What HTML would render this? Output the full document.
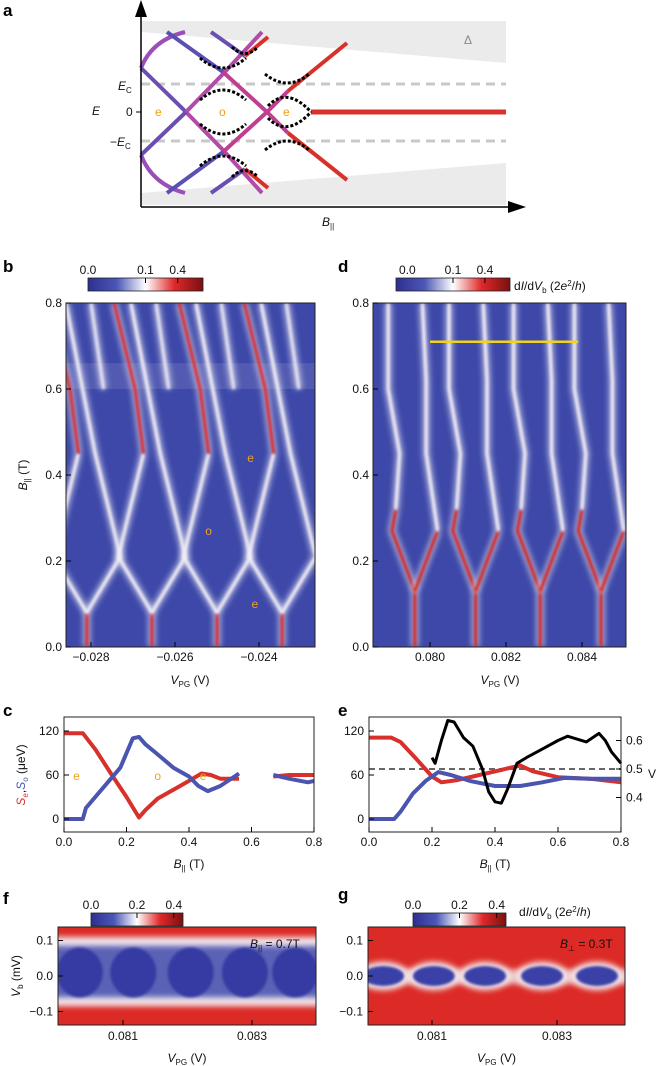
<!DOCTYPE html>
<html><head><meta charset="utf-8">
<style>
html,body{margin:0;padding:0;background:#fff;}
svg{display:block;font-family:"Liberation Sans",sans-serif;}
.t{font-size:12px;fill:#111;}
.pl{font-size:17px;font-weight:bold;fill:#000;}
</style></head>
<body>
<svg id="fig" width="668" height="1066" viewBox="0 0 668 1066" xmlns="http://www.w3.org/2000/svg">
<defs>
<linearGradient id="cbar" x1="0" x2="1" y1="0" y2="0">
<stop offset="0" stop-color="#2e2f8f"/><stop offset="0.25" stop-color="#4b57b8"/><stop offset="0.5" stop-color="#ffffff"/><stop offset="0.75" stop-color="#e0282a"/><stop offset="1" stop-color="#7a1010"/>
</linearGradient>
<filter id="blur1" filterUnits="userSpaceOnUse" x="0" y="0" width="668" height="1066"><feGaussianBlur stdDeviation="1.4"/></filter>
<filter id="blur2" filterUnits="userSpaceOnUse" x="0" y="0" width="668" height="1066"><feGaussianBlur stdDeviation="3"/></filter>
<clipPath id="clipB"><rect x="66" y="303" width="249" height="344"/></clipPath>
<clipPath id="clipD"><rect x="373" y="303" width="253" height="344"/></clipPath>
<clipPath id="clipF"><rect x="58" y="927" width="258" height="98"/></clipPath>
<clipPath id="clipG"><rect x="368" y="927" width="257" height="98"/></clipPath>
</defs>

<!-- Panel a -->
<g>
<text class="pl" x="3" y="16">a</text>
<polygon points="141,21 506,21 506,63 141,32" fill="#ebebeb"/>
<polygon points="141,193 506,163 506,205 141,205" fill="#ebebeb"/>
<text x="464" y="44" font-size="12" fill="#888">Δ</text>
<line x1="141" y1="84" x2="506" y2="84" stroke="#c8c8c8" stroke-width="3" stroke-dasharray="9,6"/>
<line x1="141" y1="141" x2="506" y2="141" stroke="#c8c8c8" stroke-width="3" stroke-dasharray="9,6"/>
<g fill="none" stroke-width="4" stroke-linecap="butt">
<path d="M141,68 Q152,40 185,32" stroke="#9a4fb8"/>
<path d="M141,155 Q152,184 185,193" stroke="#9a4fb8"/>
<path d="M141,68 L186,112" stroke="#6a4fb0"/>
<path d="M186,112 L223,150 L262,193" stroke="#b24aa8"/>
<path d="M141,155 L186,112" stroke="#6a4fb0"/>
<path d="M186,112 L223,74 L262,32" stroke="#b24aa8"/>
<path d="M167,32 L223,72" stroke="#5a50b4"/>
<path d="M223,72 L267,112 L288,133" stroke="#c03f90"/>
<path d="M288,133 L347,180" stroke="#d8302a"/>
<path d="M167,193 L223,152" stroke="#5a50b4"/>
<path d="M223,152 L267,112 L288,91" stroke="#c03f90"/>
<path d="M288,91 L347,43" stroke="#d8302a"/>
<path d="M211,32 L245,56" stroke="#6a4fb0"/>
<path d="M245,56 L268,37" stroke="#d8302a"/>
<path d="M211,193 L245,169" stroke="#6a4fb0"/>
<path d="M245,169 L268,188" stroke="#d8302a"/>
<path d="M311,112 L506,112" stroke="#d8302a" stroke-width="5"/>
</g>
<g fill="none" stroke="#000" stroke-width="3" stroke-dasharray="3,2">
<path d="M200,58 Q223,78 246,58"/>
<path d="M232,47 Q245,60 258,47"/>
<path d="M200,100 Q223,80 246,100"/>
<path d="M265,74 Q287,92 309,74"/>
<path d="M268,106 Q287,86 311,112"/>
<path d="M268,118 Q287,138 311,112"/>
<path d="M200,124 Q223,144 246,124"/>
<path d="M265,150 Q287,132 309,150"/>
<path d="M200,166 Q223,146 246,166"/>
<path d="M232,177 Q245,164 258,177"/>
</g>
<line x1="141" y1="207" x2="512" y2="207" stroke="#000" stroke-width="1.5"/>
<polygon points="526,207 508,201 508,213" fill="#000"/>
<line x1="141" y1="207" x2="141" y2="14" stroke="#000" stroke-width="1.5"/>
<polygon points="141,0 135,17 147,17" fill="#000"/>
<line x1="136" y1="112" x2="141" y2="112" stroke="#000"/>
<text class="t" x="92" y="115" font-style="italic">E</text>
<text class="t" x="126" y="116">0</text>
<text class="t" x="118" y="90" font-style="italic">E<tspan font-size="8" dy="3" font-style="normal">C</tspan></text>
<text class="t" x="110" y="146">−<tspan font-style="italic">E</tspan><tspan font-size="8" dy="3">C</tspan></text>
<text x="155" y="116" font-size="12" fill="#f0a020">e</text>
<text x="219" y="116" font-size="12" fill="#f0a020">o</text>
<text x="283" y="116" font-size="12" fill="#f0a020">e</text>
<text class="t" x="322" y="226" font-style="italic">B<tspan font-size="8" dy="3" font-style="normal">||</tspan></text>
</g>

<g id="panelB"></g>
<g id="panelD"></g>
<g id="panelC"></g>
<g id="panelE"></g>
<g id="panelF"></g>
<g id="panelG"></g>
</svg>

<script>
// ---- data ----
const bPeaks = [-0.0281, -0.02655, -0.0250, -0.02345];
const dStems = [0.0796, 0.0812, 0.0829, 0.0845];
const cB_red = [0,0.06,0.1,0.15,0.2,0.24,0.26,0.3,0.35,0.4,0.44,0.47,0.5,0.56];
const cS_red = [117,117,95,62,30,2,12,28,40,52,62,60,55,55];
const cB_red2 = [0.67,0.72,0.8];
const cS_red2 = [58,60,60];
const cB_blue = [0,0.06,0.07,0.12,0.18,0.22,0.24,0.26,0.3,0.35,0.4,0.43,0.46,0.5,0.56];
const cS_blue = [0,0,15,40,70,110,112,102,88,70,58,45,38,45,62];
const cB_blue2 = [0.67,0.72,0.78,0.8];
const cS_blue2 = [60,55,50,52];
const eB_red = [0,0.07,0.1,0.15,0.2,0.23,0.28,0.35,0.42,0.48,0.52,0.6,0.7,0.8];
const eS_red = [111,111,105,82,58,50,53,60,67,73,65,57,55,50];
const eB_blue = [0,0.08,0.1,0.14,0.18,0.22,0.26,0.32,0.4,0.48,0.55,0.62,0.7,0.8];
const eS_blue = [0,0,10,35,52,64,60,52,45,45,50,56,55,55];
const eB_v = [0.2,0.21,0.23,0.25,0.27,0.3,0.33,0.36,0.38,0.4,0.42,0.44,0.47,0.5,0.55,0.6,0.63,0.66,0.69,0.73,0.75,0.77,0.8];
const eV = [0.54,0.52,0.6,0.67,0.665,0.61,0.58,0.5,0.42,0.385,0.38,0.43,0.52,0.54,0.57,0.6,0.615,0.605,0.595,0.625,0.6,0.56,0.52];
const bTicksX = [-0.028,-0.026,-0.024];
const dTicksX = [0.080,0.082,0.084];
const bTicksY = [0.0,0.2,0.4,0.6,0.8];
const cTicksX = [0.0,0.2,0.4,0.6,0.8];
const cTicksY = [0,60,120];
const eTicksV = [0.4,0.5,0.6];
const fgTicksX = [0.081,0.083];
const fgTicksY = [-0.1,0.0,0.1];
const fLobes = [0.08033,0.08116,0.08205,0.08289,0.08367];
const gLobes = [0.08022,0.08103,0.08185,0.08276,0.08364];

const NS="http://www.w3.org/2000/svg";
function mk(parent,tag,attrs,text){const e=document.createElementNS(NS,tag);for(const k in attrs)e.setAttribute(k,attrs[k]);if(text!==undefined)e.textContent=text;parent.appendChild(e);return e;}
function fmt(v,d){return (v<0?'−':'')+Math.abs(v).toFixed(d);}

// scales
const by=B=>647-B*430;
const bx=V=>91+(V+0.028)*42000;
const dx=V=>430+(V-0.080)*38000;
const cx=B=>64+B*312.5;
const cy=S=>819-S*(88/120);
const ex=B=>369+B*315;
const eyV=v=>769-(v-0.5)*285;
const fy=m=>976-m*355;
const fx=V=>123+(V-0.081)*64500;
const gx=V=>432+(V-0.081)*62500;

function colorbar(g,x,y,w,labels,tickFracs,name){
  const r=mk(g,'rect',{x:x,y:y,width:w,height:13,fill:'url(#cbar)',stroke:'#222','stroke-width':0.8});
  
  
  labels.forEach((l,i)=>{mk(g,'text',{class:'t',x:x+l[1]*w,y:y-4,'text-anchor':'middle'},l[0]);});
  tickFracs.forEach(f=>mk(g,'line',{x1:x+f*w,x2:x+f*w,y1:y,y2:y+5,stroke:'#000'}));
}
function ridge(g,pts,core){
  const d='M'+pts.map(p=>p[0].toFixed(1)+','+p[1].toFixed(1)).join(' L');
  mk(g,'path',{d:d,fill:'none',stroke:'#e6e8f6','stroke-width':8,opacity:0.6,filter:'url(#blur2)'});
  const c=mk(g,'path',{d:d,fill:'none',stroke:core,'stroke-width':3,filter:'url(#blur1)'});
  
  
}

// ---- Panel B ----
(function(){
  const g=document.getElementById('panelB');
  mk(g,'text',{class:'pl',x:3,y:272},'b');
  colorbar(g,88,278,115,[['0.0',0],['0.1',0.5],['0.4',0.78]],[0.5,0.78],'colorbar-b');
  const h=mk(g,'g',{'clip-path':'url(#clipB)'});
  mk(h,'rect',{x:66,y:303,width:249,height:344,fill:'#3d48a8'});
  mk(h,'rect',{x:66,y:by(0.66),width:249,height:by(0.6)-by(0.66),fill:'#7a80c4',opacity:0.35});
  bPeaks.forEach(p=>{
    const P=(V,B)=>[bx(V),by(B)];
    ridge(h,[P(p,0),P(p,0.08)],'#e0282a');
    ridge(h,[P(p,0.08),P(p+0.0008,0.21),P(p+0.0002,0.45),P(p-0.0005,0.8)],'#f4eef6');
    ridge(h,[P(p,0.08),P(p-0.0008,0.21),P(p-0.0002,0.45)],'#f4eef6');
    ridge(h,[P(p-0.0002,0.45),P(p-0.0004,0.6),P(p-0.0009,0.8)],'#e0282a');
    ridge(h,[P(p+0.0004,0.6),P(p+0.0001,0.8)],'#e8e4f2');
  });
  mk(g,'rect',{x:66,y:303,width:249,height:344,fill:'none',stroke:'#222','stroke-width':1});
  [['e',-0.0242,0.44],['o',-0.0252,0.27],['e',-0.0241,0.1]].forEach(t=>mk(g,'text',{x:bx(t[1]),y:by(t[2])+4,'font-size':12,fill:'#f0a020','text-anchor':'middle'},t[0]));
  bTicksY.forEach(v=>{mk(g,'line',{x1:66,x2:71,y1:by(v),y2:by(v),stroke:'#000'});mk(g,'text',{class:'t',x:62,y:by(v)+4,'text-anchor':'end'},v.toFixed(1));});
  bTicksX.forEach(v=>{mk(g,'line',{x1:bx(v),x2:bx(v),y1:647,y2:642,stroke:'#000'});mk(g,'text',{class:'t',x:bx(v),y:661,'text-anchor':'middle'},fmt(v,3));});
  mk(g,'text',{class:'t',x:190,y:684,'text-anchor':'middle'}).innerHTML='<tspan font-style="italic">V</tspan><tspan font-size="8" dy="3">PG</tspan><tspan dy="-3"> (V)</tspan>';
  mk(g,'text',{class:'t',transform:'translate(27,475) rotate(-90)','text-anchor':'middle'}).innerHTML='<tspan font-style="italic">B</tspan><tspan font-size="8" dy="3">||</tspan><tspan dy="-3"> (T)</tspan>';
})();

// ---- Panel D ----
(function(){
  const g=document.getElementById('panelD');
  mk(g,'text',{class:'pl',x:338,y:272},'d');
  colorbar(g,396,278,114,[['0.0',0.1],['0.1',0.5],['0.4',0.78]],[0.5,0.78],'colorbar-d');
  mk(g,'text',{class:'t',x:514,y:290}).innerHTML='d<tspan font-style="italic">I</tspan>/d<tspan font-style="italic">V</tspan><tspan font-size="8" dy="3">b</tspan><tspan dy="-3"> (2</tspan><tspan font-style="italic">e</tspan><tspan font-size="8" dy="-4">2</tspan><tspan dy="4">/</tspan><tspan font-style="italic">h</tspan>)';
  const h=mk(g,'g',{'clip-path':'url(#clipD)'});
  mk(h,'rect',{x:373,y:303,width:253,height:344,fill:'#3d48a8'});
  dStems.forEach(s=>{
    const P=(V,B)=>[dx(V),by(B)];
    ridge(h,[P(s,0),P(s,0.13)],'#d8201f');
    ridge(h,[P(s,0.13),P(s-0.0006,0.27),P(s-0.0005,0.32)],'#d8201f');
    ridge(h,[P(s-0.0005,0.32),P(s-0.0004,0.45),P(s-0.0007,0.6),P(s-0.0007,0.8)],'#f4eef6');
    ridge(h,[P(s,0.13),P(s+0.0006,0.27)],'#d8201f');
    ridge(h,[P(s+0.0006,0.27),P(s+0.0003,0.45),P(s+0.0003,0.62),P(s+0.0002,0.8)],'#f4eef6');
  });
  const y=mk(g,'line',{x1:dx(0.0800),x2:dx(0.0839),y1:by(0.71),y2:by(0.71),stroke:'#f2d21a','stroke-width':2.5});
  
  
  mk(g,'rect',{x:373,y:303,width:253,height:344,fill:'none',stroke:'#222','stroke-width':1});
  bTicksY.forEach(v=>{mk(g,'line',{x1:373,x2:378,y1:by(v),y2:by(v),stroke:'#000'});mk(g,'text',{class:'t',x:369,y:by(v)+4,'text-anchor':'end'},v.toFixed(1));});
  dTicksX.forEach(v=>{mk(g,'line',{x1:dx(v),x2:dx(v),y1:647,y2:642,stroke:'#000'});mk(g,'text',{class:'t',x:dx(v),y:661,'text-anchor':'middle'},v.toFixed(3));});
  mk(g,'text',{class:'t',x:500,y:684,'text-anchor':'middle'}).innerHTML='<tspan font-style="italic">V</tspan><tspan font-size="8" dy="3">PG</tspan><tspan dy="-3"> (V)</tspan>';
})();

function line(g,xs,ys,fx_,fy_,color,w,name){
  const d='M'+xs.map((x,i)=>fx_(x).toFixed(1)+','+fy_(ys[i]).toFixed(1)).join(' L');
  const p=mk(g,'path',{d:d,fill:'none',stroke:color,'stroke-width':w,'stroke-linejoin':'round'});
  
  
}
function xyAxes(g,x0,x1,xs){
  mk(g,'rect',{x:x0,y:717,width:x1-x0,height:115,fill:'none',stroke:'#222','stroke-width':1});
  cTicksY.forEach(v=>{mk(g,'line',{x1:x0,x2:x0+5,y1:cy(v),y2:cy(v),stroke:'#000'});mk(g,'text',{class:'t',x:x0-5,y:cy(v)+4,'text-anchor':'end'},v);});
  cTicksX.forEach(v=>{mk(g,'line',{x1:xs(v),x2:xs(v),y1:832,y2:827,stroke:'#000'});mk(g,'text',{class:'t',x:xs(v),y:846,'text-anchor':'middle'},v.toFixed(1));});
  mk(g,'text',{class:'t',x:(x0+x1)/2,y:868,'text-anchor':'middle'}).innerHTML='<tspan font-style="italic">B</tspan><tspan font-size="8" dy="3">||</tspan><tspan dy="-3"> (T)</tspan>';
}
// ---- Panel C ----
(function(){
  const g=document.getElementById('panelC');
  mk(g,'text',{class:'pl',x:3,y:716},'c');
  line(g,cB_red,cS_red,cx,cy,'#d8302a',4,'se-line');
  line(g,cB_red2,cS_red2,cx,cy,'#d8302a',4,'se-line-2');
  line(g,cB_blue,cS_blue,cx,cy,'#4a55b0',4,'so-line');
  line(g,cB_blue2,cS_blue2,cx,cy,'#4a55b0',4,'so-line-2');
  [['e',0.04],['o',0.3],['e',0.445]].forEach(t=>mk(g,'text',{x:cx(t[1]),y:cy(60)+5,'font-size':12,fill:'#f0a020','text-anchor':'middle'},t[0]));
  xyAxes(g,64,314,cx);
  mk(g,'text',{class:'t',transform:'translate(25,775) rotate(-90)','text-anchor':'middle'}).innerHTML='<tspan fill="#d8302a" font-style="italic">S</tspan><tspan fill="#d8302a" font-size="8" dy="3">e</tspan><tspan dy="-3">,</tspan><tspan fill="#4a55b0" font-style="italic">S</tspan><tspan fill="#4a55b0" font-size="8" dy="3">o</tspan><tspan dy="-3"> (μeV)</tspan>';
})();
// ---- Panel E ----
(function(){
  const g=document.getElementById('panelE');
  mk(g,'text',{class:'pl',x:338,y:716},'e');
  const dl=mk(g,'line',{x1:369,x2:621,y1:eyV(0.5),y2:eyV(0.5),stroke:'#666','stroke-width':2,'stroke-dasharray':'6,4'});
  
  
  line(g,eB_red,eS_red,ex,cy,'#d8302a',4,'se-line');
  line(g,eB_blue,eS_blue,ex,cy,'#4a55b0',4,'so-line');
  line(g,eB_v,eV,ex,eyV,'#000',3,'v-line');
  xyAxes(g,369,621,ex);
  eTicksV.forEach(v=>{mk(g,'line',{x1:616,x2:621,y1:eyV(v),y2:eyV(v),stroke:'#000'});mk(g,'text',{class:'t',x:626,y:eyV(v)+4},v.toFixed(1));});
  mk(g,'text',{class:'t',x:648,y:778},'V');
})();

function fgPanel(g,x0,x1,xs,name){
  mk(g,'rect',{x:x0,y:927,width:x1-x0,height:98,fill:'none',stroke:'#222','stroke-width':1});
  fgTicksY.forEach(v=>{mk(g,'line',{x1:x0,x2:x0+5,y1:fy(v),y2:fy(v),stroke:'#000'});mk(g,'text',{class:'t',x:x0-5,y:fy(v)+4,'text-anchor':'end'},fmt(v,1));});
  fgTicksX.forEach(v=>{mk(g,'line',{x1:xs(v),x2:xs(v),y1:1025,y2:1020,stroke:'#000'});mk(g,'text',{class:'t',x:xs(v),y:1040,'text-anchor':'middle'},v.toFixed(3));});
  mk(g,'text',{class:'t',x:(x0+x1)/2,y:1062,'text-anchor':'middle'}).innerHTML='<tspan font-style="italic">V</tspan><tspan font-size="8" dy="3">PG</tspan><tspan dy="-3"> (V)</tspan>';
}
// ---- Panel F ----
(function(){
  const g=document.getElementById('panelF');
  mk(g,'text',{class:'pl',x:3,y:904},'f');
  colorbar(g,91,913,92,[['0.0',0],['0.2',0.5],['0.4',0.9]],[0.5,0.9],'colorbar-f');
  const h=mk(g,'g',{'clip-path':'url(#clipF)'});
  mk(h,'rect',{x:58,y:927,width:258,height:98,fill:'#dc2b26'});
  mk(h,'rect',{x:40,y:fy(0.11),width:300,height:fy(-0.085)-fy(0.11),fill:'#f3e6ea',filter:'url(#blur2)'});
  mk(h,'rect',{x:40,y:fy(0.085),width:300,height:fy(-0.06)-fy(0.085),fill:'#5a62b6',filter:'url(#blur2)'});
  fLobes.forEach((v,i)=>{
    const e=mk(h,'ellipse',{cx:fx(v),cy:fy(0.01),rx:23,ry:fy(-0.06)-fy(0.01),fill:'#353ba2',filter:'url(#blur1)'});
    
    
  });
  fgPanel(g,58,316,fx);
  mk(g,'text',{class:'t',x:250,y:948}).innerHTML='<tspan font-style="italic">B</tspan><tspan font-size="8" dy="3">||</tspan><tspan dy="-3"> = 0.7T</tspan>';
  mk(g,'text',{class:'t',transform:'translate(20,976) rotate(-90)','text-anchor':'middle'}).innerHTML='<tspan font-style="italic">V</tspan><tspan font-size="8" dy="3">b</tspan><tspan dy="-3"> (mV)</tspan>';
})();
// ---- Panel G ----
(function(){
  const g=document.getElementById('panelG');
  mk(g,'text',{class:'pl',x:338,y:900},'g');
  colorbar(g,413,913,93,[['0.0',0],['0.2',0.5],['0.4',0.9]],[0.5,0.9],'colorbar-g');
  mk(g,'text',{class:'t',x:519,y:916}).innerHTML='d<tspan font-style="italic">I</tspan>/d<tspan font-style="italic">V</tspan><tspan font-size="8" dy="3">b</tspan><tspan dy="-3"> (2</tspan><tspan font-style="italic">e</tspan><tspan font-size="8" dy="-4">2</tspan><tspan dy="4">/</tspan><tspan font-style="italic">h</tspan>)';
  const h=mk(g,'g',{'clip-path':'url(#clipG)'});
  mk(h,'rect',{x:368,y:927,width:257,height:98,fill:'#dc2b26'});
  mk(h,'rect',{x:350,y:fy(0.018),width:300,height:fy(-0.022)-fy(0.018),fill:'#f3e6ea',opacity:0.8,filter:'url(#blur2)'});
  gLobes.forEach(v=>{
    mk(h,'ellipse',{cx:gx(v),cy:fy(0),rx:26,ry:fy(-0.04)-fy(0),fill:'#f3e6ea',filter:'url(#blur2)'});
    const e=mk(h,'ellipse',{cx:gx(v),cy:fy(0),rx:21,ry:fy(-0.028)-fy(0),fill:'#3a3fa6',filter:'url(#blur1)'});
    
    
  });
  fgPanel(g,368,625,gx);
  mk(g,'text',{class:'t',x:560,y:948}).innerHTML='<tspan font-style="italic">B</tspan><tspan font-size="8" dy="3">⊥</tspan><tspan dy="-3"> = 0.3T</tspan>';
})();
</script>
</body></html>
